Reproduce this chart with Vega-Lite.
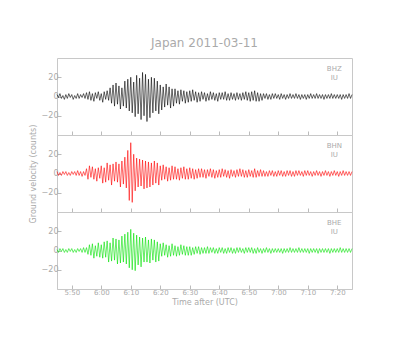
{
"$schema":"https://vega.github.io/schema/vega-lite/v6.json",
"padding":{"left":28,"top":36,"right":5,"bottom":5},
"background":"white",
"bounds":"flush",
"title":{"text":"Japan 2011-03-11","fontSize":12,"font":"DejaVu Sans","fontWeight":"normal","color":"#aaa","offset":8,"anchor":"middle","frame":"group"},
"spacing":0,
"config":{"view":{"stroke":"#c8c8c8","strokeWidth":1},"concat":{"spacing":0},
"axis":{"grid":false,"domainColor":"#c8c8c8","tickColor":"#bbb","tickSize":-4,"labelColor":"#aaa","labelFontSize":8,"labelFont":"DejaVu Sans","titleFont":"DejaVu Sans","titleFontWeight":"normal","titleColor":"#aaa","titleFontSize":8,"labelPadding":3,"tickCount":20},
"axisX":{"labelOverlap":false,"labelFlush":false}},
"datasets":{"w":[
{"t":0,"z":2,"n":2,"e":1},{"t":0.5,"z":-1,"n":-2,"e":-2},{"t":1,"z":3,"n":1,"e":2},{"t":1.5,"z":-2,"n":-2,"e":-1},{"t":2,"z":1,"n":2,"e":2},{"t":2.5,"z":-3,"n":-1,"e":-2},{"t":3,"z":2,"n":2,"e":1},{"t":3.5,"z":-2,"n":-2,"e":-2},{"t":4,"z":3,"n":1,"e":2},{"t":4.5,"z":-1,"n":-2,"e":-1},
{"t":5,"z":2,"n":2,"e":2},{"t":5.5,"z":-3,"n":-1,"e":-2},{"t":6,"z":1,"n":2,"e":1},{"t":6.5,"z":-2,"n":-2,"e":-2},{"t":7,"z":3,"n":3,"e":2},{"t":7.5,"z":-2,"n":-2,"e":-1},{"t":8,"z":2,"n":2,"e":2},{"t":8.5,"z":-1,"n":-3,"e":-2},{"t":9,"z":3,"n":2,"e":3},{"t":9.5,"z":-2,"n":-2,"e":-2},
{"t":10,"z":4,"n":5,"e":3},{"t":10.5,"z":-3,"n":-6,"e":-4},{"t":11,"z":5,"n":8,"e":6},{"t":11.5,"z":-4,"n":-4,"e":-5},{"t":12,"z":3,"n":7,"e":7},{"t":12.5,"z":-5,"n":-6,"e":-8},{"t":13,"z":4,"n":5,"e":5},{"t":13.5,"z":-2,"n":-8,"e":-6},{"t":14,"z":5,"n":6,"e":8},{"t":14.5,"z":-4,"n":-5,"e":-7},
{"t":15,"z":3,"n":8,"e":6},{"t":15.5,"z":-6,"n":-10,"e":-8},{"t":16,"z":5,"n":6,"e":9},{"t":16.5,"z":-3,"n":-9,"e":-7},{"t":17,"z":6,"n":11,"e":10},{"t":17.5,"z":-4,"n":-7,"e":-12},{"t":18,"z":9,"n":9,"e":8},{"t":18.5,"z":-7,"n":-12,"e":-11},{"t":19,"z":12,"n":10,"e":13},{"t":19.5,"z":-10,"n":-8,"e":-10},
{"t":20,"z":14,"n":12,"e":12},{"t":20.5,"z":-8,"n":-9,"e":-14},{"t":21,"z":11,"n":10,"e":11},{"t":21.5,"z":-13,"n":-14,"e":-13},{"t":22,"z":9,"n":13,"e":15},{"t":22.5,"z":-10,"n":-11,"e":-12},{"t":23,"z":16,"n":17,"e":17},{"t":23.5,"z":-12,"n":-15,"e":-14},{"t":24,"z":18,"n":24,"e":19},{"t":24.5,"z":-15,"n":-28,"e":-18},
{"t":25,"z":20,"n":32,"e":22},{"t":25.5,"z":-17,"n":-30,"e":-20},{"t":26,"z":15,"n":20,"e":18},{"t":26.5,"z":-21,"n":-18,"e":-21},{"t":27,"z":22,"n":16,"e":16},{"t":27.5,"z":-18,"n":-14,"e":-15},{"t":28,"z":19,"n":15,"e":14},{"t":28.5,"z":-24,"n":-13,"e":-17},{"t":29,"z":25,"n":14,"e":13},{"t":29.5,"z":-20,"n":-16,"e":-12},
{"t":30,"z":23,"n":13,"e":14},{"t":30.5,"z":-26,"n":-15,"e":-12},{"t":31,"z":18,"n":12,"e":11},{"t":31.5,"z":-22,"n":-14,"e":-13},{"t":32,"z":20,"n":11,"e":12},{"t":32.5,"z":-17,"n":-12,"e":-10},{"t":33,"z":19,"n":13,"e":11},{"t":33.5,"z":-15,"n":-10,"e":-12},{"t":34,"z":16,"n":11,"e":9},{"t":34.5,"z":-18,"n":-12,"e":-11},
{"t":35,"z":12,"n":8,"e":7},{"t":35.5,"z":-14,"n":-7,"e":-6},{"t":36,"z":10,"n":9,"e":8},{"t":36.5,"z":-11,"n":-6,"e":-5},{"t":37,"z":13,"n":7,"e":6},{"t":37.5,"z":-9,"n":-8,"e":-7},{"t":38,"z":10,"n":6,"e":5},{"t":38.5,"z":-12,"n":-7,"e":-6},{"t":39,"z":8,"n":8,"e":7},{"t":39.5,"z":-10,"n":-6,"e":-5},
{"t":40,"z":8,"n":7,"e":5},{"t":40.5,"z":-7,"n":-6,"e":-6},{"t":41,"z":6,"n":5,"e":4},{"t":41.5,"z":-8,"n":-7,"e":-5},{"t":42,"z":7,"n":6,"e":6},{"t":42.5,"z":-5,"n":-5,"e":-4},{"t":43,"z":6,"n":7,"e":5},{"t":43.5,"z":-7,"n":-6,"e":-5},{"t":44,"z":5,"n":5,"e":4},{"t":44.5,"z":-6,"n":-6,"e":-5},
{"t":45,"z":6,"n":6,"e":4},{"t":45.5,"z":-5,"n":-5,"e":-5},{"t":46,"z":7,"n":5,"e":3},{"t":46.5,"z":-4,"n":-6,"e":-4},{"t":47,"z":5,"n":4,"e":4},{"t":47.5,"z":-6,"n":-5,"e":-3},{"t":48,"z":4,"n":5,"e":4},{"t":48.5,"z":-5,"n":-4,"e":-4},{"t":49,"z":5,"n":5,"e":3},{"t":49.5,"z":-3,"n":-4,"e":-3},
{"t":50,"z":4,"n":4,"e":3},{"t":50.5,"z":-5,"n":-5,"e":-3},{"t":51,"z":3,"n":4,"e":4},{"t":51.5,"z":-4,"n":-3,"e":-3},{"t":52,"z":5,"n":5,"e":3},{"t":52.5,"z":-3,"n":-4,"e":-2},{"t":53,"z":4,"n":4,"e":3},{"t":53.5,"z":-4,"n":-5,"e":-3},{"t":54,"z":3,"n":3,"e":2},{"t":54.5,"z":-5,"n":-4,"e":-3},
{"t":55,"z":4,"n":4,"e":3},{"t":55.5,"z":-3,"n":-4,"e":-2},{"t":56,"z":4,"n":5,"e":3},{"t":56.5,"z":-3,"n":-3,"e":-3},{"t":57,"z":5,"n":4,"e":2},{"t":57.5,"z":-4,"n":-4,"e":-3},{"t":58,"z":3,"n":3,"e":3},{"t":58.5,"z":-4,"n":-5,"e":-2},{"t":59,"z":4,"n":4,"e":3},{"t":59.5,"z":-3,"n":-3,"e":-3},
{"t":60,"z":3,"n":3,"e":2},{"t":60.5,"z":-4,"n":-4,"e":-3},{"t":61,"z":4,"n":4,"e":3},{"t":61.5,"z":-3,"n":-3,"e":-2},{"t":62,"z":3,"n":5,"e":3},{"t":62.5,"z":-4,"n":-3,"e":-2},{"t":63,"z":4,"n":4,"e":2},{"t":63.5,"z":-3,"n":-4,"e":-3},{"t":64,"z":5,"n":3,"e":3},{"t":64.5,"z":-4,"n":-4,"e":-2},
{"t":65,"z":4,"n":4,"e":3},{"t":65.5,"z":-5,"n":-3,"e":-2},{"t":66,"z":5,"n":3,"e":3},{"t":66.5,"z":-4,"n":-4,"e":-3},{"t":67,"z":6,"n":5,"e":2},{"t":67.5,"z":-5,"n":-4,"e":-3},{"t":68,"z":4,"n":3,"e":3},{"t":68.5,"z":-5,"n":-3,"e":-2},{"t":69,"z":3,"n":4,"e":2},{"t":69.5,"z":-4,"n":-3,"e":-3},
{"t":70,"z":3,"n":3,"e":2},{"t":70.5,"z":-2,"n":-3,"e":-2},{"t":71,"z":3,"n":2,"e":3},{"t":71.5,"z":-3,"n":-3,"e":-2},{"t":72,"z":2,"n":3,"e":2},{"t":72.5,"z":-3,"n":-2,"e":-3},{"t":73,"z":3,"n":3,"e":2},{"t":73.5,"z":-2,"n":-3,"e":-2},{"t":74,"z":3,"n":2,"e":2},{"t":74.5,"z":-2,"n":-3,"e":-2},
{"t":75,"z":2,"n":3,"e":2},{"t":75.5,"z":-3,"n":-2,"e":-2},{"t":76,"z":3,"n":3,"e":2},{"t":76.5,"z":-2,"n":-3,"e":-3},{"t":77,"z":2,"n":2,"e":2},{"t":77.5,"z":-3,"n":-3,"e":-2},{"t":78,"z":2,"n":3,"e":2},{"t":78.5,"z":-2,"n":-2,"e":-2},{"t":79,"z":3,"n":3,"e":3},{"t":79.5,"z":-2,"n":-3,"e":-2},
{"t":80,"z":2,"n":2,"e":2},{"t":80.5,"z":-2,"n":-3,"e":-2},{"t":81,"z":3,"n":3,"e":2},{"t":81.5,"z":-2,"n":-2,"e":-2},{"t":82,"z":2,"n":3,"e":3},{"t":82.5,"z":-3,"n":-2,"e":-2},{"t":83,"z":2,"n":2,"e":2},{"t":83.5,"z":-2,"n":-3,"e":-2},{"t":84,"z":2,"n":3,"e":2},{"t":84.5,"z":-3,"n":-2,"e":-2},
{"t":85,"z":2,"n":3,"e":2},{"t":85.5,"z":-2,"n":-2,"e":-3},{"t":86,"z":3,"n":2,"e":2},{"t":86.5,"z":-2,"n":-3,"e":-2},{"t":87,"z":2,"n":2,"e":2},{"t":87.5,"z":-2,"n":-2,"e":-2},{"t":88,"z":3,"n":3,"e":2},{"t":88.5,"z":-2,"n":-2,"e":-3},{"t":89,"z":2,"n":2,"e":2},{"t":89.5,"z":-2,"n":-3,"e":-2},
{"t":90,"z":2,"n":2,"e":2},{"t":90.5,"z":-3,"n":-2,"e":-2},{"t":91,"z":2,"n":3,"e":2},{"t":91.5,"z":-2,"n":-2,"e":-2},{"t":92,"z":2,"n":2,"e":2},{"t":92.5,"z":-2,"n":-3,"e":-3},{"t":93,"z":3,"n":2,"e":2},{"t":93.5,"z":-2,"n":-2,"e":-2},{"t":94,"z":2,"n":3,"e":2},{"t":94.5,"z":-2,"n":-2,"e":-2},
{"t":95,"z":2,"n":2,"e":2},{"t":95.5,"z":-2,"n":-3,"e":-2},{"t":96,"z":2,"n":2,"e":3},{"t":96.5,"z":-3,"n":-2,"e":-2},{"t":97,"z":2,"n":3,"e":2},{"t":97.5,"z":-2,"n":-2,"e":-2},{"t":98,"z":2,"n":2,"e":2},{"t":98.5,"z":-2,"n":-2,"e":-2},{"t":99,"z":3,"n":2,"e":2},{"t":99.5,"z":-2,"n":-2,"e":-2},{"t":100,"z":2,"n":2,"e":2}
],
"lab":[{"t":94,"v":29}]},
"vconcat":[
{"width":295,"height":77,"layer":[
{"data":{"name":"w"},"mark":{"type":"line","color":"black","strokeWidth":0.6},"encoding":{"x":{"field":"t","type":"quantitative","scale":{"domain":[0,100],"nice":false},"axis":{"labels":false,"title":null,"domain":false,"tickCount":20,"values":[5,15,25,35,45,55,65,75,85,95]}},"y":{"field":"z","type":"quantitative","scale":{"domain":[-40,40],"nice":false},"axis":{"title":null,"domain":false,"tickCount":20,"values":[-20,0,20]}}}},
{"data":{"name":"lab"},"mark":{"type":"text","fontSize":7,"color":"#aaa","font":"DejaVu Sans"},"encoding":{"x":{"field":"t","type":"quantitative"},"y":{"field":"v","type":"quantitative"},"text":{"value":["BHZ","IU"]}}}
]},
{"width":295,"height":77,"layer":[
{"data":{"name":"w"},"mark":{"type":"line","color":"#ff0000","strokeWidth":0.6},"encoding":{"x":{"field":"t","type":"quantitative","scale":{"domain":[0,100],"nice":false},"axis":{"labels":false,"title":null,"domain":false,"tickCount":20,"values":[5,15,25,35,45,55,65,75,85,95]}},"y":{"field":"n","type":"quantitative","scale":{"domain":[-40,40],"nice":false},"axis":{"title":"Ground velocity (counts)","titlePadding":4,"domain":false,"tickCount":20,"values":[-20,0,20]}}}},
{"data":{"name":"lab"},"mark":{"type":"text","fontSize":7,"color":"#aaa","font":"DejaVu Sans"},"encoding":{"x":{"field":"t","type":"quantitative"},"y":{"field":"v","type":"quantitative"},"text":{"value":["BHN","IU"]}}}
]},
{"width":295,"height":77,"layer":[
{"data":{"name":"w"},"mark":{"type":"line","color":"#00e000","strokeWidth":0.6},"encoding":{"x":{"field":"t","type":"quantitative","scale":{"domain":[0,100],"nice":false},"axis":{"title":"Time after (UTC)","titlePadding":3,"labelOverlap":false,"labelFlush":false,"labelFontSize":7,"tickCount":20,"values":[5,15,25,35,45,55,65,75,85,95],"labelExpr":"floor((345+datum.value)/60)+':'+(((345+datum.value)%60)<10?'0':'')+((345+datum.value)%60)"}},"y":{"field":"e","type":"quantitative","scale":{"domain":[-40,40],"nice":false},"axis":{"title":null,"domain":false,"tickCount":20,"values":[-20,0,20]}}}},
{"data":{"name":"lab"},"mark":{"type":"text","fontSize":7,"color":"#aaa","font":"DejaVu Sans"},"encoding":{"x":{"field":"t","type":"quantitative"},"y":{"field":"v","type":"quantitative"},"text":{"value":["BHE","IU"]}}}
]}
]
}
